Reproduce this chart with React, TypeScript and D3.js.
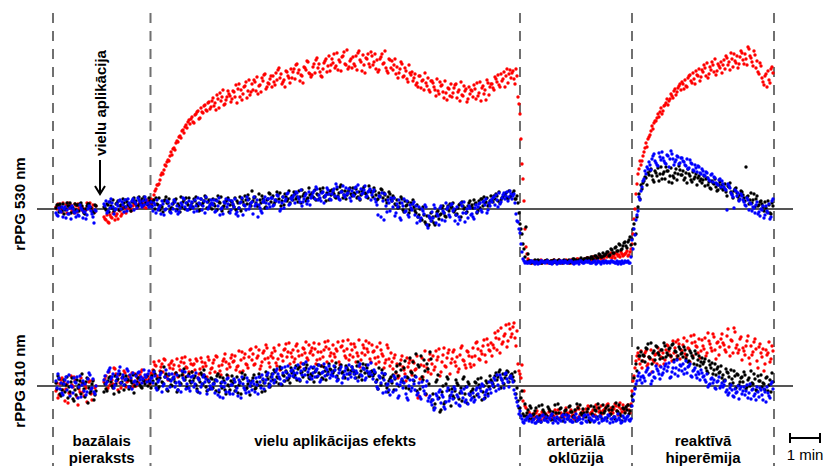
import React from "react";
import * as d3 from "d3";

// Sampling: two interleaved sample sets, each one value every 4 s
// set 1: time = 4*i s, set 2: time = 4*i + 2 s; null = no data
const SAMPLE_SECONDS = 4;
const SET_OFFSETS = [0, 2];

// Phase boundaries (s) and labels
const PHASE_BOUNDS = [-6, 189, 928, 1152, 1436];
const PHASE_LABELS = [
  ["bazālais", "pieraksts"],
  ["vielu aplikācijas efekts"],
  ["arteriālā", "oklūzija"],
  ["reaktīvā", "hiperēmija"],
];
const PANEL_LABELS = ["rPPG 530 nm", "rPPG 810 nm"];
const APPLICATION_TIME = 88; // s
const SCALE_BAR_SECONDS = 60;

// ---------- rPPG 530 nm (a.u., 0 = baseline) ----------
const T_RED = [
  2,5,-1,-3,0,4,6,1,-2,-4,3,5,0,2,-3,-1,4,6,1,-2,3,
  null,null,null,
  -8,-11,-13,-6,-9,-3,-7,-10,-2,-5,1,-4,3,0,-1,5,4,2,7,6,3,1,8,5,
  6,14,20,24,29,36,39,43,49,53,
  54,61,66,67,73,78,76,84,87,85,
  92,86,95,98,91,97,103,99,106,100,
  108,103,99,110,116,112,104,109,118,113,
  110,117,124,120,112,109,122,127,118,114,
  125,129,118,115,124,131,134,120,126,130,
  122,127,136,139,131,125,129,138,133,126,
  131,140,144,136,128,133,142,139,147,135,
  134,145,149,141,137,132,146,150,143,138,
  150,155,143,139,147,152,157,144,140,148,
  141,145,153,156,149,138,144,151,155,142,
  153,147,140,137,150,155,146,141,136,149,
  148,144,135,131,140,145,133,138,127,136,
  137,131,124,122,133,128,119,126,131,117,
  128,122,113,118,127,124,111,116,121,113,
  112,121,125,117,108,114,123,120,110,115,
  118,124,110,113,127,121,115,109,126,122,
  125,119,130,134,122,128,137,133,126,139,
  136,130,140,112,
  95,45,8,
  -38,-50,-53,-54,-52,-53,-53,-52,-54,-53,
  -52,-53,-54,-52,-51,-53,-53,-52,-54,-53,
  -51,-52,-53,-54,-52,-52,-50,-51,-53,-52,
  -50,-49,-51,-52,-48,-50,-49,-47,-48,-50,
  -47,-45,-48,-49,-46,-44,-47,-48,-45,-46,
  -44,-47,-43,
  -35,-10,15,35,48,
  48,57,66,70,74,83,86,88,95,97,
  95,103,106,104,110,113,118,114,121,125,
  127,120,123,131,134,126,130,138,133,128,
  139,144,133,131,142,147,137,134,145,141,
  136,149,153,144,139,150,155,146,141,152,
  156,145,150,162,153,147,158,141,137,146,
  131,124,135,138,126,142,
];
const T_RED2 = [
  0,3,-2,6,1,-4,2,4,-1,5,-3,1,3,-2,0,6,2,-1,4,-3,
  null,null,null,null,
  -10,-6,-14,-8,-4,-11,-5,-1,-7,2,-3,0,4,-2,3,6,1,5,8,2,6,9,4,10,
  9,18,24,25,34,35,44,47,48,57,
  60,59,68,72,71,79,82,81,89,90,
  87,94,97,90,101,96,104,98,107,102,
  111,106,114,101,108,119,105,112,115,107,
  118,112,106,125,119,115,123,111,129,117,
  119,127,132,123,117,128,135,122,125,133,
  133,124,129,141,135,127,122,137,131,140,
  137,130,145,139,134,126,141,148,136,132,
  142,136,151,145,133,140,148,137,153,144,
  146,141,156,149,138,153,145,159,142,150,
  152,143,139,158,147,154,136,150,145,157,
  144,155,149,139,152,145,158,138,150,141,
  139,150,142,136,147,132,141,130,144,134,
  128,135,126,133,121,129,136,123,119,128,
  126,119,130,115,123,117,128,109,120,125,
  116,124,111,119,127,113,118,107,122,119,
  112,120,126,116,108,123,119,129,114,125,
  121,132,127,124,135,130,122,140,135,131,
  138,125,133,105,
  70,30,-20,
  -45,-52,-54,-53,-52,-54,-53,-51,-53,-52,
  -54,-53,-52,-52,-53,-54,-51,-53,-52,-53,
  -52,-54,-51,-53,-52,-50,-53,-51,-52,-50,
  -49,-51,-50,-48,-52,-49,-47,-50,-48,-46,
  -48,-46,-44,-47,-49,-45,-46,-43,-47,-45,
  -42,-46,-40,
  -25,0,25,40,44,
  53,61,62,72,78,80,88,91,92,101,
  98,104,110,108,115,111,120,117,123,119,
  125,129,122,133,128,136,125,134,140,132,
  137,141,146,135,139,144,150,138,143,147,
  144,140,151,147,156,142,148,153,145,158,
  149,155,144,160,151,143,154,148,135,143,
  127,133,122,129,140,136,
];

const T_BLK = [
  1,4,5,-2,-5,0,3,6,2,-3,-1,4,5,3,-4,0,5,2,-2,-4,3,
  null,null,null,
  2,-1,4,7,1,-2,5,8,3,0,6,9,4,2,7,11,8,3,5,10,12,6,4,8,
  3,9,11,4,-1,2,8,12,6,-2,
  1,7,10,5,-3,2,9,11,4,0,
  6,10,12,3,-1,4,8,11,7,2,
  0,5,9,13,6,-2,3,8,11,4,
  7,2,-1,6,12,10,4,9,14,5,
  18,11,6,3,9,13,7,2,10,15,
  11,5,9,14,16,8,4,12,10,6,
  13,17,10,7,12,19,15,8,11,14,
  16,11,9,14,20,17,12,8,15,18,
  19,15,11,13,22,18,14,10,17,21,
  13,16,20,12,9,18,22,15,11,19,
  17,21,14,10,13,19,16,9,12,15,
  8,11,4,1,6,10,-3,3,7,-1,
  5,2,-4,-8,0,-11,-6,-15,-17,-9,
  -12,-14,-7,-2,-6,1,-4,-8,3,5,
  2,-3,-6,1,5,7,0,-4,3,8,
  4,9,6,-2,1,10,12,7,3,8,
  9,13,15,8,6,11,14,16,10,12,
  14,18,10,6,
  -15,-25,-40,
  -18,-45,-52,-53,-54,-52,-51,-53,-54,-53,
  -52,-53,-54,-52,-51,-53,-52,-54,-53,-51,
  -52,-53,-54,-52,-50,-51,-53,-52,-51,-50,
  -51,-49,-50,-48,-51,-47,-49,-46,-48,-47,
  -45,-43,-46,-41,-44,-38,-42,-36,-40,-34,
  -37,-33,-28,
  -30,-15,-25,2,10,
  20,28,31,36,38,33,27,36,41,35,
  30,37,42,38,33,26,31,40,35,39,
  34,29,36,40,33,27,30,35,31,28,
  26,33,30,24,21,28,25,22,19,27,
  24,20,17,23,26,15,18,21,12,14,
  17,11,42,13,9,6,15,10,3,7,
  5,-2,1,8,-4,6,
];
const T_BLK2 = [
  4,-3,2,5,-1,6,3,-4,1,5,4,-2,6,0,-5,3,5,1,-3,4,
  null,null,null,null,
  1,5,-3,3,9,0,6,-1,4,10,2,7,5,-2,9,6,3,12,7,4,9,5,11,7,
  7,0,5,11,3,-3,9,6,10,1,
  5,9,-1,3,12,7,0,6,11,3,
  2,8,5,-2,10,6,13,1,9,5,
  10,3,-1,7,12,2,6,9,-3,8,
  4,11,8,1,-2,7,13,5,10,3,
  8,12,3,15,6,10,1,9,16,7,
  13,7,17,10,3,12,15,8,18,11,
  9,15,12,18,6,13,16,10,21,14,
  12,19,15,10,17,21,13,16,9,14,
  17,12,20,16,24,11,18,14,19,15,
  21,15,11,17,14,20,16,12,23,17,
  12,18,9,16,20,11,14,6,17,10,
  13,5,9,2,12,-1,8,4,-4,6,
  9,-2,4,-6,-10,2,-13,-7,-16,-4,
  -8,-16,-3,-10,-5,3,-7,0,-2,2,
  6,-1,-5,4,-8,3,1,-3,6,2,
  1,5,-4,8,10,3,6,11,5,13,
  7,10,13,17,9,12,15,11,18,13,
  16,10,13,-4,
  -20,-35,-48,
  -53,-52,-54,-53,-51,-53,-52,-54,-53,-52,
  -51,-53,-52,-54,-53,-52,-51,-53,-54,-52,
  -53,-51,-52,-50,-53,-52,-51,-49,-52,-50,
  -49,-51,-48,-50,-47,-49,-45,-48,-44,-46,
  -43,-47,-40,-44,-39,-42,-35,-41,-37,-33,
  -39,-31,-36,
  -20,-35,-8,15,24,
  26,32,24,34,40,29,38,33,28,42,
  35,30,38,27,41,33,36,29,43,34,
  38,31,26,35,29,37,32,24,33,30,
  29,23,31,27,20,26,30,18,24,21,
  19,25,13,22,17,11,20,16,9,18,
  14,8,12,5,16,9,2,13,4,8,
  2,7,-3,4,-5,3,
];

const T_BLU = [
  -4,-7,-2,2,0,-9,-5,1,3,-3,-8,-6,4,-1,-3,-10,0,2,-5,-14,-2,
  null,null,null,
  5,8,-2,1,6,-5,0,3,9,7,-3,2,10,4,8,-1,5,11,7,2,4,9,6,3,
  2,6,-4,-1,3,8,-6,0,7,-3,
  5,9,-2,-5,1,4,10,6,-1,2,
  7,-3,3,11,5,-1,8,12,0,4,
  6,9,-2,3,-6,1,7,10,5,-4,
  8,2,-5,-7,6,11,4,-1,9,3,
  7,12,5,-8,1,-4,9,6,10,2,
  11,4,8,13,-2,6,1,10,16,5,
  9,14,17,12,7,3,10,15,8,4,
  13,18,22,9,11,16,6,14,19,10,
  15,20,25,12,9,17,14,21,16,11,
  18,13,22,24,10,15,19,12,17,20,
  14,19,7,-6,12,16,-11,3,9,-2,
  8,11,-4,2,-9,6,10,-2,-6,4,
  -1,7,3,-8,-12,0,-5,2,-19,-9,
  -3,4,-14,-7,1,-11,-4,6,2,-8,
  5,0,-6,-15,-11,3,7,-4,-9,1,
  -5,-10,4,2,6,-3,8,10,-1,3,
  7,12,14,2,5,11,16,13,8,18,
  10,15,-5,-13,
  -24,-43,-52,
  -53,-54,-54,-52,-53,-53,-55,-54,-52,-53,
  -53,-52,-54,-55,-53,-53,-54,-52,-52,-54,
  -53,-54,-52,-53,-55,-54,-53,-52,-53,-54,
  -52,-53,-54,-54,-53,-55,-52,-53,-53,-54,
  -52,-53,-54,-52,-53,-54,-55,-53,-52,-54,
  -53,-52,-54,
  -31,-20,-11,-2,9,
  22,30,35,40,44,50,55,46,43,52,
  57,48,45,53,50,55,44,49,52,46,
  51,47,43,40,49,45,38,41,43,36,
  40,34,37,31,28,35,32,26,24,30,
  28,22,19,25,21,14,1,18,16,10,
  13,7,3,9,6,-2,1,4,-5,-7,
  -1,-9,3,-4,-10,8,
];
const T_BLU2 = [
  -6,1,-3,-8,2,-1,-5,-10,0,-4,-2,-7,1,-9,-3,-6,3,-2,-8,-1,
  null,null,null,null,
  3,-4,7,10,2,-1,5,8,0,4,9,-2,6,3,10,7,1,9,4,8,12,5,2,7,
  -2,4,9,1,-5,5,-1,8,3,-4,
  0,7,3,-3,6,11,2,-1,8,4,
  1,9,-2,6,10,3,-4,7,2,9,
  4,-3,8,11,0,-5,6,2,9,-1,
  5,10,-3,1,7,-6,3,12,0,6,
  -5,3,9,4,-2,7,12,1,5,11,
  3,9,14,7,0,12,8,15,4,11,
  12,6,16,10,19,7,13,5,17,11,
  16,10,20,14,8,17,12,21,15,9,
  18,13,22,10,17,23,12,15,20,8,
  14,21,17,11,20,16,23,13,18,9,
  17,10,4,13,-8,8,15,-3,6,11,
  2,-7,5,9,-11,3,-3,8,-8,1,
  5,-6,-14,2,-9,-2,4,-16,-7,-12,
  -9,1,-5,-16,3,-2,-12,0,-6,4,
  -2,-12,2,-8,6,-4,-13,0,3,-6,
  -8,1,-3,5,-1,7,4,-4,6,9,
  11,4,9,16,7,14,10,17,12,15,
  13,6,-12,-20,
  -35,-50,-54,
  -54,-53,-52,-53,-55,-53,-54,-52,-53,-54,
  -52,-54,-53,-53,-52,-55,-53,-54,-53,-52,
  -54,-53,-52,-54,-53,-53,-55,-52,-54,-53,
  -53,-52,-54,-53,-52,-54,-53,-55,-52,-53,
  -54,-53,-52,-53,-54,-52,-53,-55,-54,-52,
  -53,-54,-48,
  -40,-26,-6,12,18,
  28,38,42,47,39,53,48,44,56,49,
  51,46,54,42,58,50,47,53,45,51,
  48,44,50,41,46,39,44,37,42,35,
  38,33,36,29,34,27,31,25,29,22,
  25,20,-1,23,16,12,19,13,8,15,
  9,4,11,-1,5,2,-4,7,-3,0,
  3,-6,-2,5,-8,10,
];

// ---------- rPPG 810 nm (a.u., 0 = baseline) ----------
const B_RED = [
  -5,-12,2,8,4,-3,-17,-8,1,9,6,-19,-6,3,-10,-2,7,5,-14,-7,0,
  null,null,null,
  4,10,-2,1,6,18,12,-4,3,8,15,-1,5,9,13,2,0,7,11,16,4,6,10,2,
  12,24,20,8,15,22,27,11,6,18,
  25,21,13,9,16,28,23,19,10,26,
  14,22,27,8,17,24,11,20,29,13,
  18,26,30,12,15,21,27,24,10,19,
  31,25,16,20,14,34,28,22,18,36,
  26,21,39,30,17,24,35,41,28,19,
  33,38,23,27,16,30,36,42,34,22,
  29,24,40,35,19,31,37,44,26,33,
  38,43,22,34,27,20,36,39,45,30,
  25,32,37,44,21,40,35,28,46,31,
  36,42,24,30,19,33,38,45,34,27,
  41,35,22,29,43,32,18,26,38,20,
  24,28,13,8,21,30,16,5,19,26,
  11,23,17,-12,7,28,20,-9,14,32,
  22,16,35,29,10,24,38,19,33,12,
  27,36,20,14,31,40,25,18,34,22,
  29,21,43,37,26,32,46,24,41,35,
  30,38,48,55,33,42,50,61,45,57,
  52,63,40,22,
  12,21,-5,
  -22,-31,-28,-30,-33,-27,-34,-29,-26,-32,
  -28,-31,-25,-33,-30,-27,-24,-32,-29,-31,
  -22,-28,-26,-30,-33,-24,-21,-29,-27,-31,
  -23,-20,-28,-26,-30,-19,-22,-25,-28,-24,
  -21,-18,-27,-25,-23,-20,-29,-17,-26,-24,
  -22,-19,-27,
  -5,10,25,33,22,
  18,30,35,22,27,14,24,32,38,20,
  28,22,36,40,31,25,33,44,46,27,
  35,48,29,38,24,43,51,40,33,28,
  46,37,30,53,42,35,49,27,44,39,
  52,41,34,57,30,45,58,38,33,47,
  26,35,40,50,22,31,44,37,18,42,
  29,15,36,33,24,40,
];
const B_RED2 = [
  3,-9,6,-4,-15,2,-7,10,-1,5,-11,-3,8,-6,1,-16,4,-8,6,-2,
  null,null,null,null,
  7,-3,14,9,2,17,5,11,-2,8,13,4,10,6,-1,12,9,3,14,8,5,11,7,13,
  16,21,10,25,19,14,26,9,21,23,
  17,12,27,20,24,11,29,18,14,22,
  21,16,25,12,28,19,23,9,26,17,
  23,14,29,20,11,25,32,17,22,28,
  24,30,19,35,26,15,32,21,29,37,
  32,22,28,36,20,33,27,38,23,30,
  28,35,20,41,31,25,37,29,43,33,
  36,27,42,30,23,38,33,28,41,35,
  31,37,26,42,34,29,44,24,37,33,
  41,29,35,24,39,45,30,37,26,42,
  29,39,33,46,26,41,31,37,43,24,
  34,28,39,24,36,30,23,41,27,33,
  17,31,22,10,26,19,12,28,23,15,
  25,16,30,-10,21,9,35,18,26,12,
  30,19,26,37,14,31,20,28,36,23,
  34,24,29,17,38,26,21,35,30,19,
  38,30,44,27,35,40,31,47,36,43,
  41,53,36,47,58,44,52,39,62,49,
  59,48,55,15,
  8,-15,-20,
  -30,-26,-33,-28,-31,-25,-29,-34,-27,-30,
  -32,-26,-29,-31,-24,-28,-33,-27,-30,-25,
  -27,-31,-24,-29,-26,-32,-23,-28,-25,-30,
  -26,-21,-27,-24,-29,-22,-26,-20,-25,-23,
  -19,-24,-22,-27,-18,-25,-21,-23,-19,-26,
  -20,-24,-18,
  5,18,30,27,35,
  25,33,20,29,36,26,31,22,34,29,
  33,26,41,35,29,45,38,30,42,36,
  41,32,45,37,50,30,44,39,47,35,
  40,48,33,45,38,52,36,43,31,47,
  43,36,50,39,46,33,54,41,36,49,
  38,31,45,28,40,34,47,25,39,33,
  37,22,31,44,27,35,
];

const B_BLK = [
  3,10,-8,-4,6,1,-12,-6,8,-15,-9,-2,5,12,-3,4,-17,-7,2,-14,-5,
  null,null,null,
  -6,-3,5,9,0,-8,2,7,12,4,-4,10,6,-1,3,-7,11,8,1,-2,5,9,0,3,
  10,15,2,-3,8,4,19,12,-5,6,
  0,7,13,-4,3,11,17,9,-2,5,
  14,8,1,-6,4,11,16,-1,6,-3,
  7,3,-5,12,9,-2,5,-8,1,-4,
  10,6,-1,-7,4,13,8,-3,2,-9,
  5,11,-2,1,9,-6,3,14,7,-1,
  12,16,4,8,19,1,10,15,6,3,
  13,9,20,17,5,14,22,18,11,7,
  10,4,16,21,12,8,19,6,14,17,
  11,15,23,7,18,13,9,20,16,12,
  19,14,8,24,11,6,17,21,13,10,
  15,12,4,-3,9,16,11,2,-6,7,
  3,-4,14,10,22,6,18,-2,8,28,
  13,5,32,21,-3,9,26,-8,17,34,
  -14,-22,4,11,-26,-6,-18,2,7,-10,
  -3,-12,6,1,-7,-15,9,-1,4,-9,
  -5,-11,3,7,-2,-14,0,5,-8,10,
  4,-1,13,9,16,6,2,11,14,8,
  12,5,-8,-15,
  -22,-5,-30,
  -30,-24,-20,-33,-28,-22,-35,-30,-19,-26,
  -32,-21,-25,-29,-34,-27,-18,-23,-31,-28,
  -24,-33,-20,-26,-30,-35,-22,-19,-29,-27,
  -31,-23,-36,-28,-21,-25,-18,-30,-33,-27,
  -22,-20,-29,-24,-31,-17,-26,-28,-35,-23,
  -21,-19,-25,
  -10,8,22,38,30,
  25,30,38,42,28,22,35,40,33,27,
  36,43,29,31,38,41,26,34,30,37,
  33,39,27,24,35,30,22,32,26,20,
  28,24,18,13,21,23,16,11,19,14,
  8,5,17,13,2,7,15,-2,11,4,
  9,14,-3,6,0,3,12,-4,10,5,
  -1,2,8,-5,6,13,
];
const B_BLK2 = [
  -3,7,-10,2,-6,9,-1,4,-13,-4,6,1,-8,3,-11,8,-2,-5,5,-9,
  null,null,null,null,
  2,-5,8,4,-2,10,6,-6,3,9,1,7,-3,5,11,0,4,8,-1,6,2,10,5,-2,
  5,12,7,-1,14,3,9,-4,11,1,
  8,4,-6,10,2,14,6,-1,12,3,
  5,10,-3,7,13,2,9,-5,4,8,
  -2,6,10,-6,3,8,-4,11,0,5,
  3,-5,9,1,-8,7,11,-2,5,0,
  8,-3,4,12,0,6,-5,10,2,9,
  6,14,9,2,17,11,5,13,8,18,
  15,11,6,19,13,9,16,21,8,12,
  18,14,9,13,20,7,15,11,22,16,
  13,19,10,17,21,14,8,18,12,15,
  16,12,20,9,15,22,13,18,10,14,
  10,13,6,18,1,8,12,-2,5,9,
  11,7,20,0,16,4,25,9,-3,14,
  24,10,-5,19,30,6,15,22,2,27,
  -8,-18,6,-12,-24,0,-16,9,-4,-20,
  -10,-5,3,-13,-2,7,-8,-17,2,-6,
  -3,4,-9,1,8,-6,-12,3,-1,6,
  2,10,6,14,-2,12,8,15,4,11,
  9,14,-2,-22,
  -12,-28,-18,
  -27,-33,-22,-29,-25,-31,-20,-36,-24,-28,
  -30,-23,-34,-26,-19,-32,-27,-22,-35,-25,
  -29,-21,-26,-31,-24,-18,-33,-27,-23,-30,
  -26,-34,-20,-29,-24,-31,-22,-27,-19,-25,
  -32,-24,-28,-21,-33,-25,-19,-30,-22,-27,
  -24,-28,-20,
  -15,-2,15,30,34,
  31,24,37,29,43,33,26,39,31,36,
  28,40,33,37,30,42,35,27,39,32,
  29,36,31,25,33,28,35,21,30,24,
  22,27,15,25,18,12,22,17,13,20,
  11,6,14,9,16,3,10,12,1,8,
  4,11,-1,8,15,2,7,-5,5,11,
  3,-4,9,1,-6,4,
];

const B_BLU = [
  5,12,-3,-7,2,9,4,-10,-1,8,3,-12,10,1,-5,-9,7,11,-2,-6,0,
  null,null,null,
  6,2,14,18,9,-2,5,12,19,8,1,7,15,11,-3,4,10,13,6,3,16,9,12,5,
  8,14,-2,4,11,-6,2,16,7,-1,
  12,9,3,-4,1,15,6,-3,10,-5,
  4,-1,13,8,-7,2,11,7,-4,0,
  -3,2,6,-9,-11,4,-1,-6,8,-8,
  1,7,-5,-10,3,9,-2,-7,5,0,
  -4,2,8,-8,4,11,-3,6,13,1,
  9,3,15,12,7,18,5,14,20,10,
  16,13,8,21,6,11,17,24,14,9,
  7,19,15,10,4,13,22,18,12,8,
  14,20,9,6,16,3,11,18,7,13,
  19,12,15,5,22,10,17,8,21,14,
  11,16,4,-3,8,13,6,-6,2,-9,
  5,10,-4,-12,1,7,3,-8,-14,6,
  -2,2,9,-7,-11,4,-5,0,-15,-10,
  -19,-24,-8,-13,-4,-9,-21,-16,-2,-12,
  -6,-1,-17,-11,-20,-7,-3,-14,-18,-9,
  -12,-16,-4,-8,-1,2,-13,-6,-10,-3,
  3,8,-5,1,11,6,-2,13,4,9,
  7,-4,-12,-20,
  -25,-33,-37,
  -34,-31,-29,-36,-33,-37,-35,-32,-30,-34,
  -31,-36,-33,-28,-32,-35,-37,-34,-30,-33,
  -29,-32,-35,-36,-31,-28,-34,-33,-37,-30,
  -35,-29,-32,-34,-36,-31,-33,-30,-35,-34,
  -32,-29,-37,-33,-31,-35,-28,-34,-36,-32,
  -33,-30,-35,
  -20,-8,2,10,6,
  3,8,14,18,12,5,9,20,15,7,
  11,17,22,19,8,14,24,18,10,21,
  15,12,25,19,22,9,16,11,14,6,
  13,10,4,-1,2,8,6,-3,5,-2,
  3,1,-6,-9,-2,-4,-11,-7,0,-3,
  -8,-1,-5,-12,2,-4,-10,-14,-6,-2,
  -9,-3,-16,-7,-12,4,
];
const B_BLU2 = [
  -2,8,3,-9,6,-4,11,0,-7,4,9,-1,-11,5,2,-6,13,-3,7,-8,
  null,null,null,null,
  10,4,16,7,12,1,9,15,3,11,6,17,-1,8,13,5,2,14,9,7,11,4,15,8,
  3,10,-4,6,13,0,9,-3,12,5,
  7,-1,11,4,-6,8,14,2,-2,9,
  10,2,-5,6,-1,9,4,-8,5,-2,
  2,-7,5,-4,0,-12,3,7,-6,1,
  -8,4,-2,6,-12,2,-4,8,-6,3,
  5,-6,1,9,-2,7,3,11,-1,5,
  12,6,17,9,2,13,19,8,11,15,
  10,18,13,7,15,22,11,4,17,19,
  13,9,17,21,6,14,10,16,20,11,
  10,16,5,13,19,8,15,12,21,9,
  16,8,13,20,11,18,6,15,12,23,
  7,14,-1,10,3,-7,12,1,-4,5,
  -6,8,2,-10,4,-2,9,-12,0,-5,
  6,-4,-9,3,-13,-1,-8,5,-12,-16,
  -14,-22,-10,-6,-17,-11,-23,-5,-15,-9,
  -13,-3,-9,-19,-5,-12,-16,-1,-8,-14,
  -7,-14,-2,-11,-5,0,-9,-4,4,-7,
  0,6,11,-3,8,3,12,7,-1,10,
  4,-8,-16,-28,
  -30,-36,-34,
  -32,-35,-30,-34,-37,-31,-33,-36,-29,-34,
  -35,-32,-30,-37,-34,-31,-33,-35,-29,-36,
  -33,-30,-34,-36,-32,-35,-31,-37,-33,-29,
  -36,-32,-34,-30,-35,-33,-37,-31,-34,-32,
  -35,-30,-33,-36,-31,-34,-32,-37,-30,-35,
  -31,-34,-33,
  -14,-3,5,13,9,
  10,5,16,11,2,14,8,17,12,19,
  13,20,15,23,9,18,12,26,16,20,
  22,17,13,20,10,15,18,8,12,16,
  9,6,12,1,7,3,-2,4,9,0,
  -1,5,-4,-7,1,-10,-3,-6,-13,-1,
  -5,-9,1,-7,-13,-3,-8,-1,-11,-4,
  -14,-6,-1,-10,2,-3,
];

const COLORS = { red: "#ff0000", black: "#000000", blue: "#0000ff" };
const FONT = "'Liberation Sans', Arial, Helvetica, sans-serif";

type Vals = (number | null)[];

export default function App() {
  const W = 823, H = 466;
  const x = d3.scaleLinear().domain([0, 1432]).range([56, 772]);
  const yTop = d3.scaleLinear().domain([-60, 170]).range([269, 39]);
  const yBot = d3.scaleLinear().domain([-40, 70]).range([426, 316]);

  const panels: { y: d3.ScaleLinear<number, number>; series: [Vals[], string][]; label: string }[] = [
    {
      y: yTop, label: PANEL_LABELS[0],
      series: [[[T_RED, T_RED2], COLORS.red], [[T_BLK, T_BLK2], COLORS.black], [[T_BLU, T_BLU2], COLORS.blue]],
    },
    {
      y: yBot, label: PANEL_LABELS[1],
      series: [[[B_RED, B_RED2], COLORS.red], [[B_BLK, B_BLK2], COLORS.black], [[B_BLU, B_BLU2], COLORS.blue]],
    },
  ];

  const axisT0 = -38, axisT1 = 1474;
  const arrowX = x(APPLICATION_TIME);
  const barW = x(SCALE_BAR_SECONDS) - x(0);
  const barX0 = 790;

  return (
    <svg width={W} height={H} style={{ position: "absolute", left: 0, top: 0, background: "#fff" }}
      fontFamily={FONT}>
      {PHASE_BOUNDS.map((t, i) => (
        <line key={"d" + i} x1={x(t)} x2={x(t)} y1={13} y2={H} stroke="#707070"
          strokeWidth={2} strokeDasharray="10,8" />
      ))}
      {panels.map((p, pi) => (
        <g key={"p" + pi}>
          <line x1={x(axisT0)} x2={x(axisT1)} y1={p.y(0)} y2={p.y(0)} stroke="#555" strokeWidth={2} />
          {p.series.map(([sets, col], si) => (
            <g key={"s" + si} fill={col}>
              {sets.map((vals, k) =>
                vals.map((v, i) =>
                  v === null ? null : (
                    <circle key={k + "-" + i} cx={x(i * SAMPLE_SECONDS + SET_OFFSETS[k])} cy={p.y(v)} r={1.7} />
                  )
                )
              )}
            </g>
          ))}
          <text transform={`translate(25,${p.y(0) - 5}) rotate(-90)`} textAnchor="middle"
            fontSize={15} fontWeight="bold">{p.label}</text>
        </g>
      ))}
      <line x1={arrowX} x2={arrowX} y1={160} y2={194} stroke="#000" strokeWidth={2} />
      <polyline points={`${arrowX - 5},${186} ${arrowX},${194} ${arrowX + 5},${186}`}
        fill="none" stroke="#000" strokeWidth={2} />
      <text transform={`translate(${arrowX + 6},103) rotate(-90)`} textAnchor="middle"
        fontSize={15} fontWeight="bold">vielu aplikācija</text>
      {PHASE_LABELS.map((lines, i) => {
        const cx = (x(PHASE_BOUNDS[i]) + x(PHASE_BOUNDS[i + 1])) / 2;
        return (
          <text key={"l" + i} textAnchor="middle" fontSize={15} fontWeight="bold">
            {lines.map((s, j) => (
              <tspan key={j} x={cx} y={446 + j * 17}>{s}</tspan>
            ))}
          </text>
        );
      })}
      <line x1={barX0} x2={barX0 + barW} y1={438} y2={438} stroke="#000" strokeWidth={2} />
      <line x1={barX0} x2={barX0} y1={433} y2={443} stroke="#000" strokeWidth={2} />
      <line x1={barX0 + barW} x2={barX0 + barW} y1={433} y2={443} stroke="#000" strokeWidth={2} />
      <text x={barX0 + barW / 2} y={460} textAnchor="middle" fontSize={15}>1 min</text>
    </svg>
  );
}
